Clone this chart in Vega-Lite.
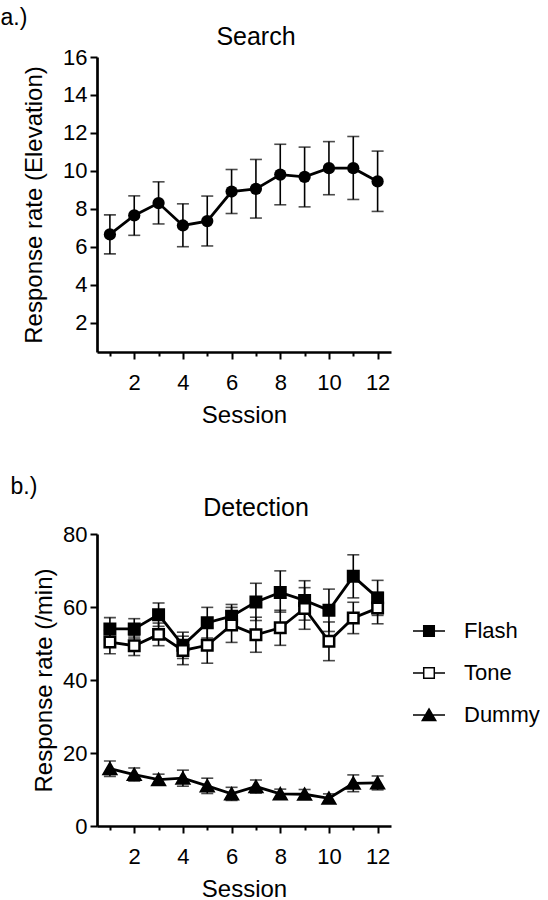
{
  "$schema": "https://vega.github.io/schema/vega-lite/v6.json",
  "background": "white",
  "padding": {"left": 0, "top": 7, "right": 0, "bottom": 0},
  "config": {
    "font": "Liberation Sans",
    "view": {"stroke": null},
    "axis": {
      "domainColor": "black", "domainWidth": 2.7, "tickColor": "black", "tickWidth": 2, "tickSize": 7,
      "labelColor": "black", "labelFontSize": 22, "labelFont": "Liberation Sans", "labelPadding": 3,
      "titleFont": "Liberation Sans", "titleFontSize": 24, "titleFontWeight": "normal", "titleColor": "black",
      "grid": false, "labelFlush": false, "labelOverlap": false
    },
    "legend": {"labelFontSize": 22, "labelColor": "black", "labelFont": "Liberation Sans"},
    "title": {"font": "Liberation Sans", "fontSize": 25, "fontWeight": "normal", "color": "black"}
  },
  "datasets": {
    "search": [
      {"session": 1, "mean": 6.65, "lo": 5.62, "hi": 7.68},
      {"session": 2, "mean": 7.65, "lo": 6.6, "hi": 8.68},
      {"session": 3, "mean": 8.3, "lo": 7.2, "hi": 9.42},
      {"session": 4, "mean": 7.12, "lo": 6.0, "hi": 8.26},
      {"session": 5, "mean": 7.35, "lo": 6.04, "hi": 8.67},
      {"session": 6, "mean": 8.91, "lo": 7.75, "hi": 10.07},
      {"session": 7, "mean": 9.05, "lo": 7.51, "hi": 10.6},
      {"session": 8, "mean": 9.8, "lo": 8.21, "hi": 11.4},
      {"session": 9, "mean": 9.68, "lo": 8.1, "hi": 11.25},
      {"session": 10, "mean": 10.14, "lo": 8.74, "hi": 11.54},
      {"session": 11, "mean": 10.14, "lo": 8.49, "hi": 11.81},
      {"session": 12, "mean": 9.44, "lo": 7.86, "hi": 11.04}
    ],
    "detection": [
      {"group": "Flash", "session": 1, "mean": 54.0, "lo": 51.0, "hi": 57.1},
      {"group": "Flash", "session": 2, "mean": 54.0, "lo": 51.5, "hi": 56.8},
      {"group": "Flash", "session": 3, "mean": 57.9, "lo": 54.7, "hi": 61.1},
      {"group": "Flash", "session": 4, "mean": 49.5, "lo": 45.9, "hi": 53.1},
      {"group": "Flash", "session": 5, "mean": 55.7, "lo": 51.5, "hi": 59.9},
      {"group": "Flash", "session": 6, "mean": 57.5, "lo": 54.3, "hi": 60.7},
      {"group": "Flash", "session": 7, "mean": 61.4, "lo": 56.3, "hi": 66.5},
      {"group": "Flash", "session": 8, "mean": 64.0, "lo": 58.6, "hi": 69.9},
      {"group": "Flash", "session": 9, "mean": 61.8, "lo": 56.4, "hi": 67.2},
      {"group": "Flash", "session": 10, "mean": 59.1, "lo": 53.3, "hi": 64.9},
      {"group": "Flash", "session": 11, "mean": 68.4, "lo": 62.5, "hi": 74.3},
      {"group": "Flash", "session": 12, "mean": 62.5, "lo": 57.7, "hi": 67.3},
      {"group": "Tone", "session": 1, "mean": 50.4, "lo": 47.2, "hi": 53.6},
      {"group": "Tone", "session": 2, "mean": 49.4, "lo": 46.7, "hi": 52.1},
      {"group": "Tone", "session": 3, "mean": 52.5, "lo": 49.4, "hi": 55.6},
      {"group": "Tone", "session": 4, "mean": 48.1, "lo": 44.2, "hi": 52.0},
      {"group": "Tone", "session": 5, "mean": 49.5, "lo": 44.6, "hi": 54.4},
      {"group": "Tone", "session": 6, "mean": 55.1, "lo": 50.3, "hi": 59.9},
      {"group": "Tone", "session": 7, "mean": 52.4, "lo": 47.6, "hi": 57.2},
      {"group": "Tone", "session": 8, "mean": 54.3, "lo": 49.5, "hi": 59.1},
      {"group": "Tone", "session": 9, "mean": 59.6, "lo": 53.9, "hi": 65.3},
      {"group": "Tone", "session": 10, "mean": 50.6, "lo": 45.3, "hi": 55.9},
      {"group": "Tone", "session": 11, "mean": 57.0, "lo": 52.7, "hi": 61.3},
      {"group": "Tone", "session": 12, "mean": 59.7, "lo": 55.4, "hi": 64.0},
      {"group": "Dummy", "session": 1, "mean": 15.7, "lo": 13.6, "hi": 17.8},
      {"group": "Dummy", "session": 2, "mean": 14.1, "lo": 12.3, "hi": 15.9},
      {"group": "Dummy", "session": 3, "mean": 12.7, "lo": 11.2, "hi": 14.2},
      {"group": "Dummy", "session": 4, "mean": 13.1, "lo": 10.9, "hi": 15.3},
      {"group": "Dummy", "session": 5, "mean": 11.0, "lo": 8.9, "hi": 13.1},
      {"group": "Dummy", "session": 6, "mean": 8.8, "lo": 7.0, "hi": 10.6},
      {"group": "Dummy", "session": 7, "mean": 10.8, "lo": 9.0, "hi": 12.6},
      {"group": "Dummy", "session": 8, "mean": 8.8, "lo": 7.5, "hi": 10.1},
      {"group": "Dummy", "session": 9, "mean": 8.7, "lo": 7.4, "hi": 10.0},
      {"group": "Dummy", "session": 10, "mean": 7.6, "lo": 6.4, "hi": 8.8},
      {"group": "Dummy", "session": 11, "mean": 11.7, "lo": 9.4, "hi": 14.0},
      {"group": "Dummy", "session": 12, "mean": 11.8, "lo": 9.9, "hi": 13.7}
    ]
  },
  "spacing": 49,
  "vconcat": [
    {
      "title": {"text": "a.)", "anchor": "start", "fontSize": 23, "dx": -22, "offset": -5},
      "vconcat": [
        {
          "title": {"text": "Search", "dx": 12, "offset": -4},
          "width": 294,
          "height": 295,
          "data": {"name": "search"},
          "encoding": {
            "x": {
              "field": "session", "type": "quantitative", "title": "Session",
              "scale": {"domain": [0.47, 12.55], "nice": false, "zero": false},
              "axis": {
                "values": [1, 2, 3, 4, 5, 6, 7, 8, 9, 10, 11, 12],
                "labelExpr": "datum.value % 2 === 0 ? datum.label : ''",
                "tickSize": {"condition": {"test": "datum.value % 2 === 1", "value": 4}, "value": 7},
                "labelPadding": 13, "titlePadding": 10
              }
            },
            "y": {
              "field": "mean", "type": "quantitative", "title": "Response rate (Elevation)",
              "scale": {"domain": [0.45, 16], "nice": false, "zero": false},
              "axis": {"values": [2, 4, 6, 8, 10, 12, 14, 16], "titlePadding": 16}
            }
          },
          "layer": [
            {
              "mark": {"type": "errorbar", "color": "black", "ticks": {"size": 12, "thickness": 1.6}, "rule": {"strokeWidth": 1.6}},
              "encoding": {
                "y": {"field": "lo", "type": "quantitative", "title": "Response rate (Elevation)"},
                "y2": {"field": "hi"}
              }
            },
            {"mark": {"type": "line", "color": "black", "strokeWidth": 2.8}},
            {"mark": {"type": "point", "filled": true, "shape": "circle", "color": "black", "size": 150, "opacity": 1}}
          ]
        }
      ]
    },
    {
      "title": {"text": "b.)", "anchor": "start", "fontSize": 23, "dx": -22, "offset": -3},
      "vconcat": [
        {
          "title": {"text": "Detection", "dx": 12, "offset": 2},
          "width": 294,
          "height": 292,
          "data": {"name": "detection"},
          "encoding": {
            "x": {
              "field": "session", "type": "quantitative", "title": "Session",
              "scale": {"domain": [0.47, 12.55], "nice": false, "zero": false},
              "axis": {
                "values": [1, 2, 3, 4, 5, 6, 7, 8, 9, 10, 11, 12],
                "labelExpr": "datum.value % 2 === 0 ? datum.label : ''",
                "tickSize": {"condition": {"test": "datum.value % 2 === 1", "value": 4}, "value": 7},
                "labelPadding": 13, "titlePadding": 10
              }
            },
            "y": {
              "field": "mean", "type": "quantitative", "title": "Response rate (/min)",
              "scale": {"domain": [0, 80], "nice": false},
              "axis": {"values": [0, 20, 40, 60, 80], "titlePadding": 6}
            }
          },
          "layer": [
            {
              "mark": {"type": "errorbar", "color": "black", "ticks": {"size": 12, "thickness": 1.6}, "rule": {"strokeWidth": 1.6}},
              "encoding": {
                "y": {"field": "lo", "type": "quantitative", "title": "Response rate (/min)"},
                "y2": {"field": "hi"}
              }
            },
            {
              "mark": {"type": "line", "color": "black", "strokeWidth": 2.8},
              "encoding": {"detail": {"field": "group", "type": "nominal"}}
            },
            {
              "transform": [{"filter": "datum.group === 'Flash'"}],
              "mark": {"type": "point", "filled": true, "shape": "square", "fill": "black", "stroke": "black", "strokeWidth": 2.5, "opacity": 1, "size": 110}
            },
            {
              "transform": [{"filter": "datum.group === 'Tone'"}],
              "mark": {"type": "point", "filled": true, "shape": "square", "fill": "white", "stroke": "black", "strokeWidth": 2.5, "opacity": 1, "size": 110}
            },
            {
              "transform": [{"filter": "datum.group === 'Dummy'"}],
              "mark": {"type": "point", "filled": true, "shape": "triangle-up", "fill": "black", "stroke": "black", "strokeWidth": 2.5, "opacity": 1, "size": 150}
            },
            {
              "transform": [{"filter": "datum.session > 99"}],
              "mark": {"type": "point", "filled": true, "stroke": "black", "strokeWidth": 2.5, "opacity": 1},
              "encoding": {
                "shape": {
                  "field": "group", "type": "nominal",
                  "scale": {"domain": ["Flash", "Tone", "Dummy"], "range": ["M-1,0H1M-0.33,-0.33H0.33V0.33H-0.33Z", "M-1,0H-0.33M0.33,0H1M-0.33,-0.33H0.33V0.33H-0.33Z", "M-1,0H1M0,-0.38L0.42,0.34L-0.42,0.34Z"]},
                  "legend": {
                    "title": null, "orient": "none", "legendX": 315, "legendY": 557, "padding": 0,
                    "symbolSize": 1024, "labelFontSize": 22, "labelColor": "black", "labelFont": "Liberation Sans",
                    "labelOffset": 18, "rowPadding": 14,
                    "encode": {
                      "symbols": {
                        "size": {"value": 1024},
                        "stroke": {"value": "black"},
                        "strokeWidth": {"value": 2.7},
                        "opacity": {"value": 1}
                      }
                    }
                  }
                },
                "fill": {"field": "group", "type": "nominal", "scale": {"domain": ["Flash", "Tone", "Dummy"], "range": ["black", "white", "black"]}, "legend": null}
              }
            }
          ]
        }
      ]
    }
  ]
}
